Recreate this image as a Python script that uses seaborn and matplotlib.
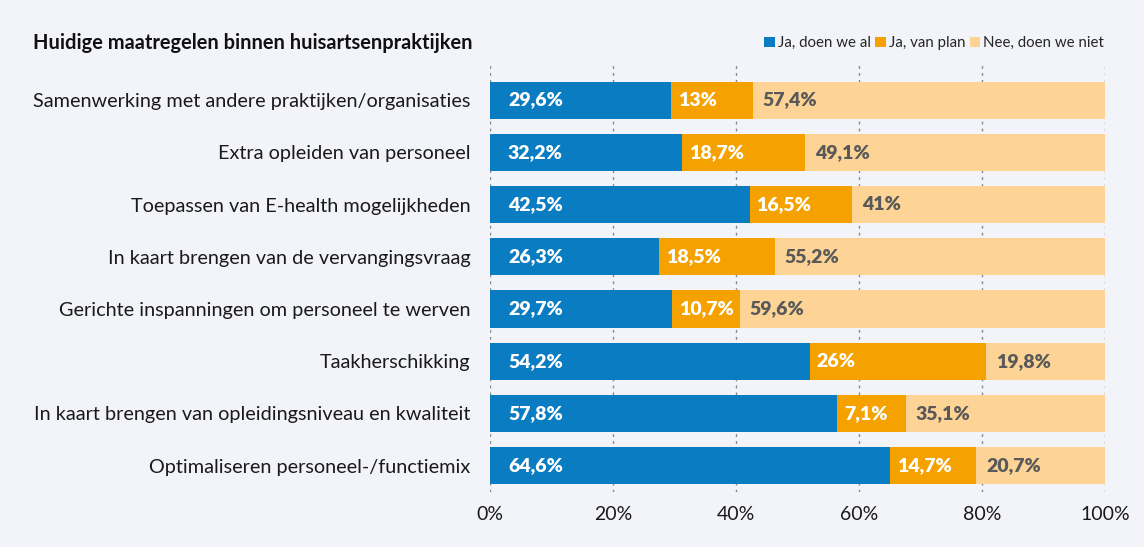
import numpy as np
import pandas as pd
import matplotlib
matplotlib.use("Agg")
import matplotlib.pyplot as plt
import seaborn as sns
from matplotlib.patches import Patch
import matplotlib.transforms as mtransforms

categories = [
    "Samenwerking met andere praktijken/organisaties",
    "Extra opleiden van personeel",
    "Toepassen van E-health mogelijkheden",
    "In kaart brengen van de vervangingsvraag",
    "Gerichte inspanningen om personeel te werven",
    "Taakherschikking",
    "In kaart brengen van opleidingsniveau en kwaliteit",
    "Optimaliseren personeel-/functiemix",
]
# bar lengths as drawn in the picture (%)
ja_al = [29.4, 31.2, 42.2, 27.5, 29.6, 52.0, 56.5, 65.0]
ja_plan = [13.3, 20.1, 16.6, 18.8, 11.0, 28.6, 11.1, 14.1]
nee = [57.3, 48.7, 41.2, 53.7, 59.4, 19.4, 32.4, 20.9]
# data labels as printed
labels_ja_al = ["29,6%", "32,2%", "42,5%", "26,3%", "29,7%", "54,2%", "57,8%", "64,6%"]
labels_ja_plan = ["13%", "18,7%", "16,5%", "18,5%", "10,7%", "26%", "7,1%", "14,7%"]
labels_nee = ["57,4%", "49,1%", "41%", "55,2%", "59,6%", "19,8%", "35,1%", "20,7%"]
series_names = ["Ja, doen we al", "Ja, van plan", "Nee, doen we niet"]
tick_values = [0, 20, 40, 60, 80, 100]
tick_labels = ["0%", "20%", "40%", "60%", "80%", "100%"]

colors = ["#0A7DC2", "#F5A200", "#FDD496"]
text_colors = ["white", "white", "#595959"]
bg = "#F3F4F9"

sns.set_theme(style="white")
plt.rcParams["font.family"] = ["Lato", "DejaVu Sans"]

df = pd.DataFrame({"cat": categories, "a": ja_al, "b": ja_plan, "c": nee})
df["cum_a"] = df["a"]
df["cum_b"] = df["a"] + df["b"]
df["cum_c"] = df["a"] + df["b"] + df["c"]

fig = plt.figure(figsize=(11.44, 5.47), dpi=100, facecolor=bg)
ax = fig.add_axes([0.4283, 0.101, 0.9659 - 0.4283, 0.881 - 0.101])
ax.set_facecolor(bg)

for col, c in [("cum_c", colors[2]), ("cum_b", colors[1]), ("cum_a", colors[0])]:
    sns.barplot(data=df, x=col, y="cat", orient="h", color=c, width=0.71,
                saturation=1, ax=ax, zorder=2, edgecolor="none", linewidth=0)

ax.set_xlim(0, 100)
ax.set_ylim(7.5, -0.67)
ax.set_xticks(tick_values)
ax.set_xticklabels(tick_labels, fontsize=14, color="#1a1a1a")
ax.set_xlabel("")
ax.set_ylabel("")
ax.tick_params(axis="y", labelsize=14.3, pad=14, length=0, labelcolor="#1a1a1a")
ax.tick_params(axis="x", pad=10, length=0)
for s in ax.spines.values():
    s.set_visible(False)
ax.grid(axis="x", linestyle=(0, (2, 3)), color="#888888", linewidth=1, zorder=0)
ax.grid(axis="y", visible=False)
ax.set_axisbelow(True)

pads = [18, 7, 10]
starts = [df["cum_a"].values * 0, df["cum_a"].values, df["cum_b"].values]
labs = [labels_ja_al, labels_ja_plan, labels_nee]
for k in range(3):
    tr = ax.transData + mtransforms.ScaledTranslation(pads[k] / 100, 0, fig.dpi_scale_trans)
    for i in range(len(categories)):
        ax.text(starts[k][i], i, labs[k][i], transform=tr, ha="left", va="center",
                fontsize=14, fontweight="heavy", color=text_colors[k], zorder=5)

fig.text(33 / 1144, 1 - 43 / 547, "Huidige maatregelen binnen huisartsenpraktijken",
         fontsize=14.4, fontweight="bold", ha="left", va="center", color="#111111")

handles = [Patch(facecolor=c, edgecolor="none") for c in colors]
fig.legend(handles, series_names, loc="center right", bbox_to_anchor=(1104 / 1144, 1 - 43 / 547),
           ncol=3, frameon=False, fontsize=10.8, handlelength=0.7, handleheight=0.7,
           handletextpad=0.2, columnspacing=0.3, borderaxespad=0, borderpad=0)

fig.savefig("out.png", dpi=100, facecolor=bg)
